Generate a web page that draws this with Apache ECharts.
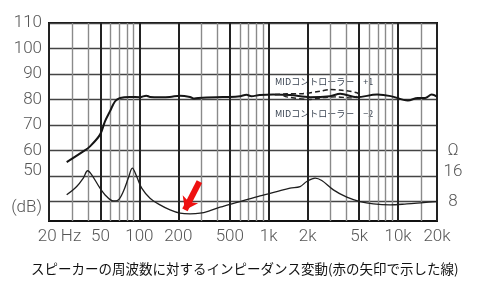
<!DOCTYPE html>
<html><head><meta charset="utf-8">
<script src="https://cdn.jsdelivr.net/npm/echarts@6/dist/echarts.min.js"></script>
<style>html,body{margin:0;padding:0;background:#fff}#c{width:484px;height:292px}</style>
</head><body><div id="c"></div>
<script>
// ---- tick / label data ----
const freqLabels = [20, 50, 100, 200, 500, 1000, 2000, 5000, 10000, 20000];
const freqLabelText = ['20 Hz', '50', '100', '200', '500', '1k', '2k', '5k', '10k', '20k'];
const freqGridMinor = [30, 40, 60, 70, 80, 90, 300, 400, 600, 700, 800, 900, 3000, 4000, 6000, 7000, 8000, 9000, 15000];
const dbTicks = [40, 50, 60, 70, 80, 90, 100, 110];
const dbTickText = ['(dB)', '50', '60', '70', '80', '90', '100', '110'];
const ohmTicks = [8, 16, 24];
const ohmTickText = ['8', '16', 'Ω'];
const caption = 'スピーカーの周波数に対するインピーダンス変動(赤の矢印で示した線)';
const midLabelPlus = 'MIDコントローラー：+1';
const midLabelMinus = 'MIDコントローラー：−2';

// ---- series data ----
const respFreq = [27.4, 36.8, 41.5, 49.6, 54.2, 59.3, 64.9, 70.9, 84.4, 101, 113, 121, 144, 172, 206, 246, 262, 285, 395, 500, 600, 673, 734, 850, 1080, 1462, 2089, 2980, 3570, 4800, 6900, 8780, 11900, 14200, 16200, 18200, 20000];
const respDb   = [55.4, 59.6, 61.6, 66.2, 71.4, 75.4, 79.3, 80.6, 81.0, 80.9, 81.5, 81.0, 80.9, 81.0, 81.5, 81.0, 80.4, 80.6, 80.9, 81.0, 81.3, 81.8, 81.3, 81.7, 81.9, 81.7, 80.9, 81.3, 82.2, 80.9, 81.9, 81.3, 79.6, 80.6, 80.6, 81.9, 81.1];

const midPlusFreq = [1119, 1376, 1842, 2494, 2980, 3671, 4240, 4800, 5200];
const midPlusDb   = [81.9, 82.2, 82.3, 83.2, 83.9, 83.6, 83.2, 82.6, 81.6];
const midMinusFreq = [1300, 1376, 2089, 2494, 3358, 4240, 4800];
const midMinusDb   = [81.5, 81.0, 80.0, 80.6, 81.0, 80.6, 81.2];

const impFreq = [27.4, 32.75, 36.85, 39.8, 42.8, 49.6, 55.9, 62.9, 68.7, 75.1, 82.1, 88.2, 95.3, 104.2, 120.8, 144.4, 172.6, 206.2, 246.4, 294.4, 351.8, 420.3, 600, 857, 1153, 1462, 1747, 1968, 2282, 2571, 3161, 4014, 5085, 6443, 8675, 11680, 15700, 19930];
const impOhm  = [10.05, 12.66, 15.31, 17.61, 16.35, 12.16, 9.51, 8.16, 8.47, 11.09, 15.31, 18.46, 15.81, 12.16, 9.01, 6.90, 5.32, 4.28, 4.06, 4.28, 5.10, 6.17, 7.94, 9.73, 11.09, 12.16, 12.66, 14.24, 15.31, 14.55, 11.62, 9.32, 7.94, 7.21, 6.90, 7.21, 7.62, 7.94];

const arrowFreq = [291, 225];
const arrowOhm = [14.2, 5.3];

// ---- build ----
const L = Math.log10;
const xMin = L(20), xMax = L(20000);
const dbMin = 32.3, dbMax = 110;
const ohmMin = (dbMin - 30) * 0.8, ohmMax = (dbMax - 30) * 0.8;
const pts = (fs, vs) => fs.map((f, i) => [L(f), vs[i]]);
const labelFont = { fontFamily: 'Roboto', fontWeight: 300, fontSize: 17, color: '#555' };

const chart = echarts.init(document.getElementById('c'), null, { renderer: 'canvas' });
chart.setOption({
  animation: false,
  backgroundColor: '#fff',
  title: {
    text: caption, left: 31, top: 262, padding: 0,
    textStyle: { fontFamily: 'Noto Sans CJK JP', fontSize: 13.5, fontWeight: 'normal', color: '#111' }
  },
  grid: { left: 49, top: 23, right: 47, bottom: 71, show: true, borderColor: '#111', borderWidth: 2, backgroundColor: 'transparent' },
  xAxis: [
    {
      type: 'value', min: xMin, max: xMax, position: 'bottom',
      axisLine: { show: false }, axisLabel: { show: false },
      axisTick: { show: false, customValues: freqGridMinor.map(L) },
      splitLine: { show: true, lineStyle: { color: '#8a8a8a', width: 1.4 } }
    },
    {
      type: 'value', min: xMin, max: xMax, position: 'bottom',
      axisLine: { show: false },
      axisTick: { show: false, customValues: freqLabels.map(L) },
      splitLine: { show: true, lineStyle: { color: '#222', width: 2 } },
      axisLabel: Object.assign({
        customValues: freqLabels.map(L), margin: 7,
        formatter: v => {
          const i = freqLabels.findIndex(f => Math.abs(L(f) - v) < 1e-6);
          if (i === 0) return '{hz|' + freqLabelText[0] + '}';
          return i >= 0 ? freqLabelText[i] : '';
        },
        rich: { hz: { padding: [0, 0, 0, 21], fontFamily: 'Roboto', fontWeight: 300, fontSize: 17, color: '#555' } }
      }, labelFont)
    }
  ],
  yAxis: [
    {
      type: 'value', min: dbMin, max: dbMax,
      axisLine: { show: false },
      axisTick: { show: false, customValues: dbTicks },
      splitLine: { show: true, lineStyle: { color: '#444', width: 1.4 } },
      axisLabel: Object.assign({
        customValues: dbTicks, margin: 7,
        formatter: v => {
          const i = dbTicks.indexOf(Math.round(v));
          if (i === 0) return '{dn|' + dbTickText[0] + '}';
          if (dbTicks[i] === 50) return '{up|' + dbTickText[i] + '}';
          return i >= 0 ? dbTickText[i] : '';
        },
        rich: {
          dn: { padding: [12, 0, 0, 0], fontFamily: 'Roboto', fontWeight: 300, fontSize: 17, color: '#555' },
          up: { padding: [0, 0, 10, 0], fontFamily: 'Roboto', fontWeight: 300, fontSize: 17, color: '#555' }
        }
      }, labelFont)
    },
    {
      type: 'value', min: ohmMin, max: ohmMax, position: 'right',
      axisLine: { show: false }, axisTick: { show: false }, splitLine: { show: false },
      axisLabel: Object.assign({
        customValues: ohmTicks, margin: 16, align: 'center',
        formatter: v => {
          const i = ohmTicks.indexOf(Math.round(v));
          if (ohmTicks[i] === 16) return '{up|' + ohmTickText[i] + '}';
          return i >= 0 ? ohmTickText[i] : '';
        },
        rich: { up: { padding: [0, 0, 8, 0], fontFamily: 'Roboto', fontWeight: 300, fontSize: 17, color: '#555' } }
      }, labelFont)
    }
  ],
  series: [
    {
      name: 'response', type: 'line', xAxisIndex: 0, yAxisIndex: 0,
      data: pts(respFreq, respDb), smooth: 0.35, showSymbol: false,
      lineStyle: { color: '#151515', width: 2 }
    },
    {
      name: 'mid+1', type: 'line', xAxisIndex: 0, yAxisIndex: 0,
      data: pts(midPlusFreq, midPlusDb), smooth: 0.3, showSymbol: false,
      lineStyle: { color: '#222', width: 1.6, type: [5, 3] }
    },
    {
      name: 'mid-2', type: 'line', xAxisIndex: 0, yAxisIndex: 0,
      data: pts(midMinusFreq, midMinusDb), smooth: 0.3, showSymbol: false,
      lineStyle: { color: '#222', width: 1.4, type: [5, 3] }
    },
    {
      name: 'impedance', type: 'line', xAxisIndex: 0, yAxisIndex: 1,
      data: pts(impFreq, impOhm), smooth: 0.35, showSymbol: false,
      lineStyle: { color: '#1e1e1e', width: 1.3 },
      markLine: {
        silent: true, animation: false,
        symbol: ['none', 'arrow'], symbolSize: [13, 12],
        label: { show: false },
        lineStyle: { color: '#ee1111', width: 6, type: 'solid' },
        data: [[
          { coord: [L(arrowFreq[0]), arrowOhm[0]] },
          { coord: [L(arrowFreq[1]), arrowOhm[1]] }
        ]]
      }
    }
  ],
  graphic: [
    { type: 'text', left: 275, top: 77, silent: true,
      style: { text: midLabelPlus, fontSize: 9, fontFamily: 'Noto Sans CJK JP', fill: '#3a4452' } },
    { type: 'text', left: 275, top: 109.5, silent: true,
      style: { text: midLabelMinus, fontSize: 9, fontFamily: 'Noto Sans CJK JP', fill: '#3a4452' } }
  ]
});
</script></body></html>
